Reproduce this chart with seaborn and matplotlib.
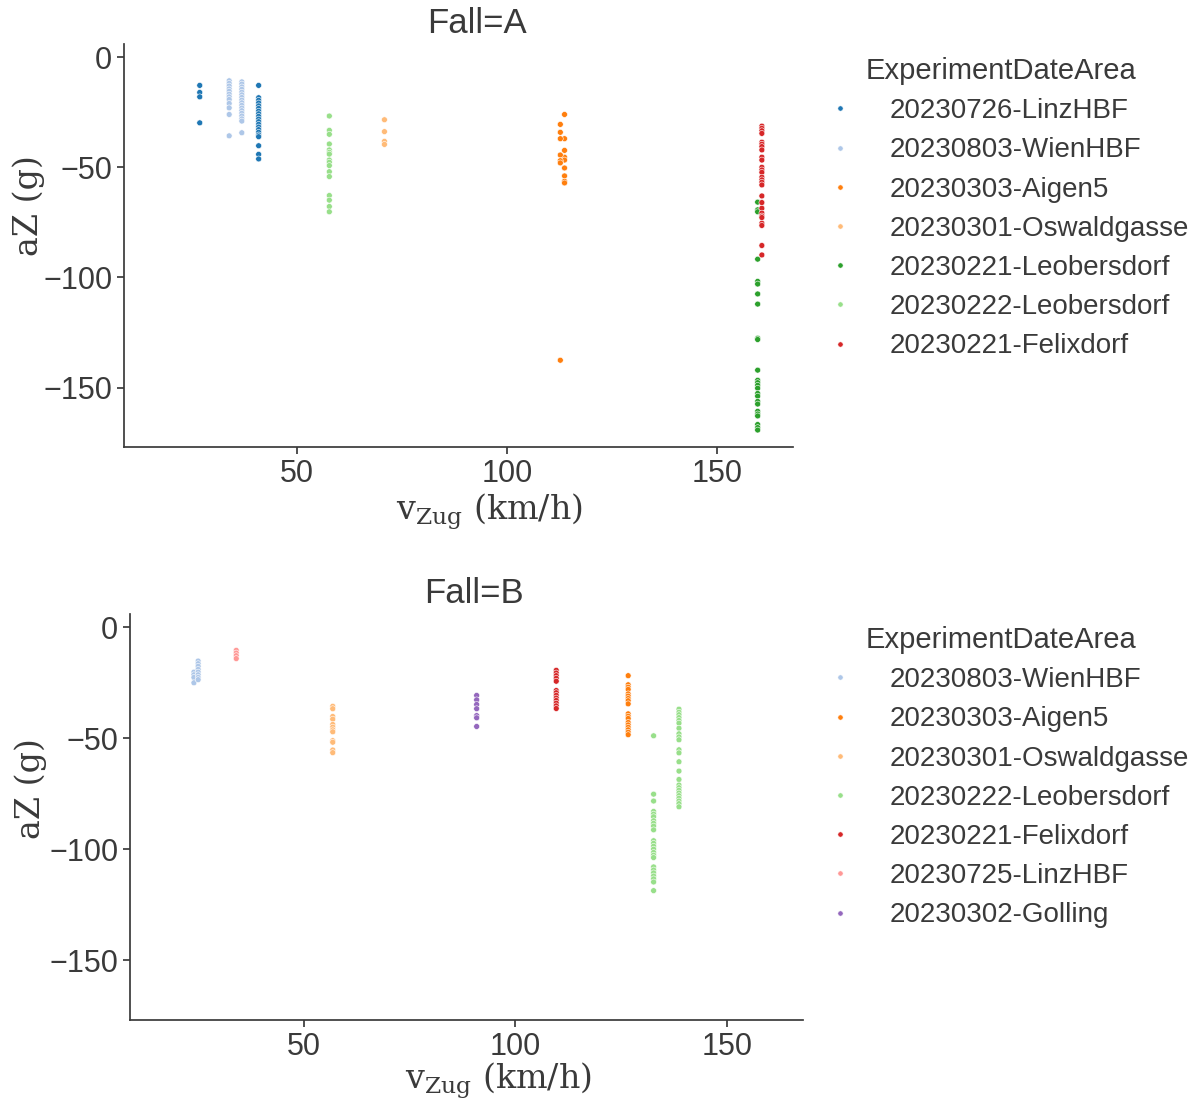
import numpy as np
import pandas as pd
import matplotlib
matplotlib.use("Agg")
import matplotlib.pyplot as plt
import seaborn as sns

# ---- measurements, Fall A ----
a_linz726_v = [27] * 4 + [41] * 20
a_linz726_az = [-12.8, -16.0, -18.0, -29.8,
                -12.8, -18.4, -19.6, -20.8, -22.1, -23.3, -24.5, -25.7, -26.9, -28.1,
                -29.3, -30.5, -31.7, -32.9, -34.1, -35.3, -36.1, -40.2, -44.1, -46.2]
a_wien_v = [34] * 12 + [37] * 17
a_wien_az = [-10.7, -11.9, -13.1, -14.4, -15.5, -16.8, -18.0, -19.2, -21.0, -23.0, -26.0, -35.7,
             -11.2, -12.2, -13.5, -14.6, -15.9, -17.1, -18.3, -19.5, -20.7, -21.9, -23.1, -24.3,
             -25.5, -26.7, -28.0, -29.0, -34.3]
a_aigen_v = [113.7] * 9 + [112.7] * 7
a_aigen_az = [-26.0, -37.0, -42.3, -45.4, -46.7, -50.3, -53.9, -56.3, -57.1,
              -30.5, -34.1, -37.0, -44.4, -47.0, -48.0, -137.6]
a_oswald_v = [70.9] * 4
a_oswald_az = [-28.4, -33.8, -38.2, -39.6]
a_leob221_v = [159.6] * 25
a_leob221_az = [-65.8, -69.3, -70.2, -91.7, -101.8, -103.0, -107.5, -112.1, -127.6, -128.2,
                -142.1, -146.7, -147.8, -149.0, -150.3, -152.7, -153.9, -156.3, -157.5,
                -160.8, -162.0, -162.9, -166.8, -168.2, -169.3]
a_leob222_v = [57.8] * 16
a_leob222_az = [-26.7, -33.2, -35.0, -39.4, -42.1, -43.2, -44.0, -46.7, -47.7, -49.2, -52.0,
                -54.2, -62.8, -64.9, -67.8, -70.2]
a_felix_v = [160.6] * 27
a_felix_az = [-31.3, -32.3, -33.4, -34.6, -38.6, -39.5, -40.6, -42.1, -45.4, -46.7, -50.0,
              -51.2, -52.3, -54.5, -55.7, -56.8, -58.0, -63.0, -66.0, -68.6, -70.8, -72.1,
              -72.8, -75.4, -76.4, -85.5, -89.8]

# ---- measurements, Fall B ----
b_wien_v = [24.1] * 4 + [25.1] * 8
b_wien_az = [-20.2, -21.4, -22.6, -25.0,
             -15.2, -16.4, -17.6, -19.0, -20.2, -21.4, -22.6, -23.6]
b_aigen_v = [126.7] * 18
b_aigen_az = [-21.8, -25.9, -27.0, -28.0, -30.0, -31.0, -32.1, -33.1, -34.5, -39.0, -40.1,
              -41.1, -42.9, -44.0, -45.1, -46.2, -47.3, -48.4]
b_oswald_v = [56.9] * 12
b_oswald_az = [-35.6, -36.7, -40.2, -41.4, -43.8, -45.0, -46.2, -47.1, -51.1, -51.8, -55.3, -56.5]
b_leob222_v = [132.7] * 24 + [138.7] * 24
b_leob222_az = [-48.9, -75.2, -78.3, -83.0, -84.2, -85.4, -87.2, -88.4, -89.6, -91.3, -96.2,
                -97.4, -98.7, -100.0, -101.5, -102.7, -103.8, -108.0, -109.4, -110.7, -112.1,
                -113.4, -114.8, -118.7,
                -36.9, -38.3, -39.4, -40.7, -42.0, -43.2, -45.5, -48.0, -49.4, -50.7, -55.2,
                -56.6, -60.6, -64.8, -68.6, -71.1, -72.3, -73.5, -74.7, -75.9, -77.1, -78.3,
                -79.5, -80.9]
b_felix_v = [109.7] * 13
b_felix_az = [-19.4, -20.6, -21.8, -23.0, -24.3, -28.5, -29.5, -30.7, -31.9, -33.0, -34.2,
              -35.4, -36.6]
b_linz725_v = [34.1] * 4
b_linz725_az = [-10.4, -11.6, -12.8, -14.1]
b_golling_v = [90.9] * 7
b_golling_az = [-30.7, -32.7, -34.8, -36.7, -39.8, -40.8, -44.7]

fall_a = [("20230726-LinzHBF", a_linz726_v, a_linz726_az),
          ("20230803-WienHBF", a_wien_v, a_wien_az),
          ("20230303-Aigen5", a_aigen_v, a_aigen_az),
          ("20230301-Oswaldgasse", a_oswald_v, a_oswald_az),
          ("20230221-Leobersdorf", a_leob221_v, a_leob221_az),
          ("20230222-Leobersdorf", a_leob222_v, a_leob222_az),
          ("20230221-Felixdorf", a_felix_v, a_felix_az)]
fall_b = [("20230803-WienHBF", b_wien_v, b_wien_az),
          ("20230303-Aigen5", b_aigen_v, b_aigen_az),
          ("20230301-Oswaldgasse", b_oswald_v, b_oswald_az),
          ("20230222-Leobersdorf", b_leob222_v, b_leob222_az),
          ("20230221-Felixdorf", b_felix_v, b_felix_az),
          ("20230725-LinzHBF", b_linz725_v, b_linz725_az),
          ("20230302-Golling", b_golling_v, b_golling_az)]

areas = ["20230726-LinzHBF", "20230803-WienHBF", "20230303-Aigen5", "20230301-Oswaldgasse",
         "20230221-Leobersdorf", "20230222-Leobersdorf", "20230221-Felixdorf",
         "20230725-LinzHBF", "20230302-Golling"]
palette = dict(zip(areas, sns.color_palette("tab20", len(areas))))


def frame(groups):
    rows = []
    for name, v, az in groups:
        for vi, ai in zip(v, az):
            rows.append({"vZug": vi, "aZ": ai, "ExperimentDateArea": name})
    return pd.DataFrame(rows)


sns.set_theme(style="ticks")
plt.rcParams["font.family"] = ["Liberation Sans", "DejaVu Sans"]
grey = "#3a3a3a"
plt.rcParams["text.color"] = grey
plt.rcParams["axes.labelcolor"] = grey
plt.rcParams["xtick.color"] = grey
plt.rcParams["ytick.color"] = grey
plt.rcParams["axes.edgecolor"] = grey
plt.rcParams["mathtext.fontset"] = "dejavuserif"

fig = plt.figure(figsize=(12, 11.01), dpi=100)
ax_a = fig.add_axes([124 / 1200, 1 - 447 / 1101, (793 - 124) / 1200, (447 - 44) / 1101])
ax_b = fig.add_axes([130 / 1200, 1 - 1020 / 1101, (803 - 130) / 1200, (1020 - 614) / 1101])

layout = {
    "A": dict(anchor=(0.656, 1 - 32 / 1101), title_x=0.528, xlabel_x=0.546, xlabel_y=-0.11,
              ylabel_x=-0.118, ylabel_y=0.60),
    "B": dict(anchor=(0.656, 1 - 601 / 1101), title_x=0.511, xlabel_x=0.547, xlabel_y=-0.1,
              ylabel_x=-0.124, ylabel_y=0.57),
}

for ax, groups, fall in [(ax_a, fall_a, "A"), (ax_b, fall_b, "B")]:
    lay = layout[fall]
    df = frame(groups)
    order = [g[0] for g in groups]
    sns.scatterplot(data=df, x="vZug", y="aZ", hue="ExperimentDateArea", hue_order=order,
                    palette=palette, s=18, edgecolor="white", linewidth=0.4, ax=ax)
    ax.set_xlim(9, 168)
    ax.set_ylim(-177, 6)
    ax.set_xticks([50, 100, 150])
    ax.set_yticks([0, -50, -100, -150])
    ax.tick_params(labelsize=22, length=5)
    ax.set_title(f"Fall={fall}", fontsize=25, pad=8, x=lay["title_x"])
    ax.set_xlabel(r"$\mathregular{v_{Zug}}$ (km/h)", fontsize=24, family="DejaVu Serif")
    ax.set_ylabel("aZ (g)", fontsize=24, family="DejaVu Serif")
    ax.xaxis.set_label_coords(lay["xlabel_x"], lay["xlabel_y"])
    ax.yaxis.set_label_coords(lay["ylabel_x"], lay["ylabel_y"])
    sns.despine(ax=ax)
    handles, labels = ax.get_legend_handles_labels()
    ax.legend(handles, labels, title="ExperimentDateArea", loc="upper left",
              bbox_to_anchor=lay["anchor"], bbox_transform=fig.transFigure,
              frameon=False, fontsize=20, title_fontsize=21, markerscale=0.9,
              handletextpad=0.8, labelspacing=0.475)

fig.savefig("out.png", dpi=100)
